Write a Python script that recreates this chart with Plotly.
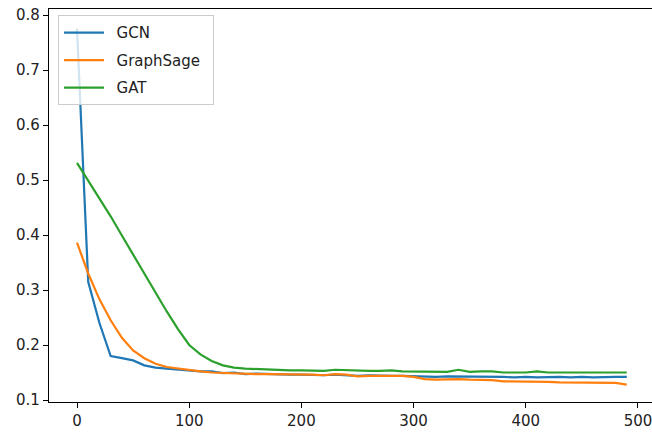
import plotly.graph_objects as go

epochs = list(range(0, 500, 10))

gcn = [0.775, 0.315, 0.240, 0.180, 0.176, 0.172, 0.163, 0.159, 0.157, 0.155,
       0.153, 0.152, 0.152, 0.149, 0.150, 0.147, 0.148, 0.147, 0.146, 0.146,
       0.146, 0.145, 0.145, 0.146, 0.145, 0.144, 0.145, 0.144, 0.144, 0.144,
       0.143, 0.143, 0.142, 0.143, 0.143, 0.142, 0.142, 0.143, 0.142, 0.141,
       0.142, 0.141, 0.142, 0.142, 0.141, 0.142, 0.141, 0.142, 0.142, 0.142]

graphsage = [0.386, 0.330, 0.283, 0.245, 0.213, 0.190, 0.176, 0.166, 0.160, 0.157,
             0.154, 0.152, 0.150, 0.149, 0.149, 0.148, 0.147, 0.147, 0.147, 0.146,
             0.146, 0.146, 0.145, 0.147, 0.146, 0.143, 0.144, 0.144, 0.143, 0.144,
             0.142, 0.138, 0.137, 0.138, 0.138, 0.137, 0.137, 0.136, 0.134, 0.134,
             0.134, 0.134, 0.133, 0.132, 0.132, 0.132, 0.132, 0.131, 0.131, 0.128]

gat = [0.531, 0.499, 0.467, 0.434, 0.399, 0.364, 0.329, 0.295, 0.261, 0.229,
       0.200, 0.183, 0.171, 0.163, 0.159, 0.157, 0.156, 0.155, 0.154, 0.154,
       0.154, 0.154, 0.153, 0.155, 0.154, 0.154, 0.153, 0.153, 0.154, 0.152,
       0.152, 0.152, 0.152, 0.151, 0.155, 0.151, 0.152, 0.152, 0.150, 0.150,
       0.150, 0.152, 0.150, 0.150, 0.150, 0.150, 0.150, 0.151, 0.151, 0.150]

series_names = ["GCN", "GraphSage", "GAT"]
series_values = [gcn, graphsage, gat]
colors = ["#1f77b4", "#ff7f0e", "#2ca02c"]

x_ticks = [0, 100, 200, 300, 400, 500]
y_ticks = [0.1, 0.2, 0.3, 0.4, 0.5, 0.6, 0.7, 0.8]

fig = go.Figure()
for name, vals, col in zip(series_names, series_values, colors):
    label = "\u2002" + name + ("\u2002" if name == "GraphSage" else "")
    fig.add_trace(go.Scatter(x=epochs, y=vals, mode="lines", name=label,
                             legendgroup=name,
                             line=dict(color=col, width=2.2)))

axis_common = dict(showgrid=False, zeroline=False, showline=True, linecolor="black",
                   linewidth=1.2, ticks="outside", ticklen=5, tickwidth=1.2,
                   tickcolor="black", automargin=False, ticklabeloverflow="allow",
                   tickfont=dict(family="DejaVu Sans", size=15, color="#222"))

fig.update_layout(
    template="none",
    width=652, height=434,
    margin=dict(l=49, r=0, t=9, b=32, autoexpand=False),
    paper_bgcolor="white", plot_bgcolor="white",
    font=dict(family="DejaVu Sans", size=15, color="#222"),
    legend=dict(x=0.015, y=0.984, xanchor="left", yanchor="top",
                bgcolor="rgba(255,255,255,0.8)", bordercolor="#cccccc", borderwidth=1,
                font=dict(family="DejaVu Sans", size=15, color="#222"),
                tracegroupgap=5, itemwidth=40),
    showlegend=True,
)
fig.update_xaxes(range=[-24.96, 512.5], tickvals=x_ticks, ticktext=[str(v) for v in x_ticks],
                 mirror=True, **axis_common)
fig.update_yaxes(range=[0.09636, 0.8109], tickvals=y_ticks, ticktext=[f"{v:.1f}" for v in y_ticks],
                 mirror=False, **axis_common)

fig.write_html("out.html",
               config={"displayModeBar": False},
               post_script="document.body.style.margin='0';document.body.style.overflow='hidden';")
